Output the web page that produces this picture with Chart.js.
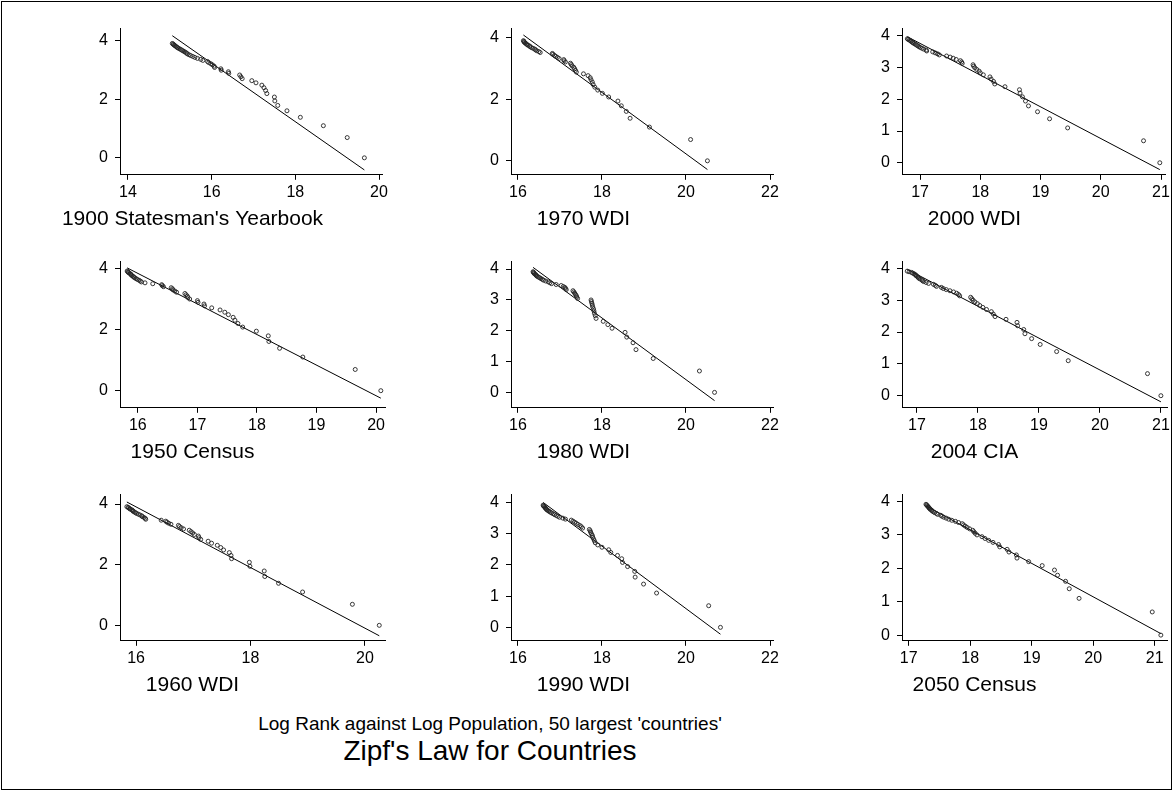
<!DOCTYPE html>
<html>
<head>
<meta charset="utf-8">
<script src="https://cdn.jsdelivr.net/npm/chart.js@4/dist/chart.umd.min.js"></script>
<style>
  body { margin: 0; background: #fff; }
  #page { position: relative; width: 1173px; height: 791px; background: #fff; overflow: hidden; }
  #frame { position: absolute; left: 1px; top: 1px; width: 1169px; height: 787px; border: 1px solid #000; }
  .cell { position: absolute; width: 391px; height: 233px; }
  .note { position: absolute; left: 0; width: 980px; text-align: center; color: #000;
          font-family: "Liberation Sans", Arial, sans-serif; white-space: nowrap; }
</style>
</head>
<body>
<div id="page">
  <div id="frame"></div>
  <div class="note" style="top: 712px; font-size: 19px; line-height: 23px;">Log Rank against Log Population, 50 largest 'countries'</div>
  <div class="note" style="top: 734px; font-size: 28px; line-height: 33px;">Zipf's Law for Countries</div>
</div>
<script>
// log rank, ranks 1..50 (same for every source)
const logRank = [0.000, 0.693, 1.099, 1.386, 1.609, 1.792, 1.946, 2.079, 2.197, 2.303,
  2.398, 2.485, 2.565, 2.639, 2.708, 2.773, 2.833, 2.890, 2.944, 2.996,
  3.045, 3.091, 3.135, 3.178, 3.219, 3.258, 3.296, 3.332, 3.367, 3.401,
  3.434, 3.466, 3.497, 3.526, 3.555, 3.584, 3.611, 3.638, 3.664, 3.689,
  3.714, 3.738, 3.761, 3.784, 3.807, 3.829, 3.850, 3.871, 3.892, 3.912];

// log population by rank, one list per source
const pop1900 = [19.65, 19.24, 18.67, 18.12, 17.80, 17.58, 17.51, 17.50, 17.32, 17.29,
  17.25, 17.20, 17.06, 16.96, 16.73, 16.70, 16.67, 16.41, 16.40, 16.23,
  16.22, 16.07, 16.06, 16.02, 15.98, 15.93, 15.90, 15.79, 15.74, 15.66,
  15.60, 15.55, 15.50, 15.46, 15.42, 15.40, 15.37, 15.34, 15.31, 15.28,
  15.25, 15.22, 15.19, 15.17, 15.15, 15.13, 15.11, 15.09, 15.08, 15.06];
const pop1970 = [20.51, 20.11, 19.13, 18.67, 18.58, 18.46, 18.38, 18.16, 18.01, 17.90,
  17.83, 17.79, 17.77, 17.74, 17.72, 17.67, 17.56, 17.39, 17.37, 17.35,
  17.33, 17.29, 17.27, 17.25, 17.13, 17.10, 17.09, 16.98, 16.94, 16.90,
  16.87, 16.83, 16.82, 16.53, 16.50, 16.45, 16.42, 16.40, 16.36, 16.32,
  16.29, 16.28, 16.24, 16.22, 16.20, 16.18, 16.16, 16.15, 16.14, 16.13];
const pop2000 = [20.98, 20.71, 19.45, 19.15, 18.95, 18.80, 18.75, 18.70, 18.66, 18.65,
  18.41, 18.24, 18.22, 18.18, 18.16, 18.05, 18.00, 17.98, 17.94, 17.91,
  17.89, 17.88, 17.70, 17.69, 17.67, 17.60, 17.55, 17.50, 17.44, 17.32,
  17.29, 17.25, 17.21, 17.11, 17.10, 17.06, 17.03, 17.00, 16.98, 16.96,
  16.94, 16.92, 16.90, 16.88, 16.87, 16.85, 16.84, 16.82, 16.80, 16.79];
const pop1950 = [20.08, 19.65, 18.77, 18.38, 18.20, 18.19, 17.99, 17.76, 17.68, 17.63,
  17.60, 17.52, 17.46, 17.38, 17.24, 17.12, 17.11, 17.01, 17.00, 16.87,
  16.84, 16.83, 16.81, 16.79, 16.65, 16.62, 16.59, 16.58, 16.56, 16.43,
  16.41, 16.40, 16.25, 16.12, 16.06, 16.04, 16.02, 15.99, 15.97, 15.95,
  15.93, 15.92, 15.90, 15.89, 15.88, 15.87, 15.85, 15.84, 15.83, 15.82];
const pop1980 = [20.68, 20.32, 19.22, 18.81, 18.74, 18.59, 18.55, 18.24, 18.14, 18.03,
  17.86, 17.84, 17.82, 17.81, 17.80, 17.78, 17.77, 17.76, 17.75, 17.74,
  17.42, 17.40, 17.39, 17.37, 17.35, 17.33, 17.31, 17.15, 17.13, 17.12,
  17.08, 17.03, 16.91, 16.80, 16.76, 16.72, 16.66, 16.61, 16.58, 16.55,
  16.52, 16.49, 16.46, 16.44, 16.43, 16.41, 16.39, 16.38, 16.37, 16.36];
const pop2004 = [21.00, 20.78, 19.48, 19.29, 19.02, 18.88, 18.77, 18.75, 18.65, 18.64,
  18.46, 18.28, 18.25, 18.22, 18.14, 18.08, 18.03, 17.99, 17.95, 17.92,
  17.90, 17.88, 17.70, 17.68, 17.65, 17.60, 17.54, 17.48, 17.43, 17.40,
  17.32, 17.30, 17.27, 17.19, 17.15, 17.11, 17.09, 17.08, 17.05, 17.03,
  17.02, 17.01, 16.99, 16.98, 16.97, 16.95, 16.93, 16.91, 16.87, 16.84];
const pop1960 = [20.25, 19.78, 18.91, 18.49, 18.25, 18.24, 17.99, 17.98, 17.67, 17.66,
  17.63, 17.53, 17.48, 17.42, 17.32, 17.26, 17.13, 17.10, 17.09, 17.02,
  16.99, 16.96, 16.93, 16.83, 16.79, 16.76, 16.74, 16.61, 16.57, 16.54,
  16.52, 16.44, 16.17, 16.16, 16.14, 16.11, 16.10, 16.07, 16.04, 16.01,
  15.99, 15.97, 15.95, 15.94, 15.93, 15.90, 15.89, 15.87, 15.86, 15.84];
const pop1990 = [20.82, 20.54, 19.30, 18.99, 18.79, 18.78, 18.61, 18.49, 18.47, 18.37,
  18.21, 18.16, 18.00, 17.90, 17.84, 17.82, 17.80, 17.78, 17.77, 17.75,
  17.73, 17.72, 17.70, 17.54, 17.51, 17.48, 17.43, 17.39, 17.35, 17.31,
  17.27, 17.13, 17.07, 16.99, 16.95, 16.91, 16.87, 16.84, 16.80, 16.77,
  16.74, 16.72, 16.69, 16.68, 16.66, 16.65, 16.64, 16.62, 16.61, 16.60];
const pop2050 = [21.10, 20.96, 19.77, 19.61, 19.55, 19.42, 19.37, 19.17, 18.95, 18.76,
  18.75, 18.63, 18.60, 18.48, 18.46, 18.37, 18.30, 18.24, 18.19, 18.11,
  18.08, 18.06, 18.04, 17.99, 17.95, 17.92, 17.89, 17.87, 17.81, 17.76,
  17.70, 17.65, 17.61, 17.57, 17.54, 17.52, 17.47, 17.45, 17.42, 17.40,
  17.38, 17.37, 17.35, 17.34, 17.33, 17.32, 17.31, 17.30, 17.29, 17.28];

// axis ticks
const ticksX14 = [14, 16, 18, 20];
const ticksX16 = [16, 18, 20, 22];
const ticksX16b = [16, 17, 18, 19, 20];
const ticksX16c = [16, 18, 20];
const ticksX17 = [17, 18, 19, 20, 21];
const ticksY2 = [0, 2, 4];
const ticksY1 = [0, 1, 2, 3, 4];

const titles = ["1900 Statesman's Yearbook", '1970 WDI', '2000 WDI',
  '1950 Census', '1980 WDI', '2004 CIA',
  '1960 WDI', '1990 WDI', '2050 Census'];

// panels in reading order (3 x 3)
const panels = [
  { x: pop1900, xr: [13.81, 20.09], xt: ticksX14, yr: [-0.58, 4.44], yt: ticksY2 },
  { x: pop1970, xr: [15.835, 22.09], xt: ticksX16, yr: [-0.455, 4.325], yt: ticksY2 },
  { x: pop2000, xr: [16.70, 21.07], xt: ticksX17, yr: [-0.38, 4.25], yt: ticksY1 },
  { x: pop1950, xr: [15.70, 20.15], xt: ticksX16b, yr: [-0.56, 4.24], yt: ticksY2 },
  { x: pop1980, xr: [15.835, 22.09], xt: ticksX16, yr: [-0.50, 4.26], yt: ticksY1 },
  { x: pop2004, xr: [16.754, 21.10], xt: ticksX17, yr: [-0.38, 4.23], yt: ticksY1 },
  { x: pop1960, xr: [15.72, 20.35], xt: ticksX16c, yr: [-0.51, 4.33], yt: ticksY2 },
  { x: pop1990, xr: [15.835, 22.09], xt: ticksX16, yr: [-0.43, 4.27], yt: ticksY1 },
  { x: pop2050, xr: [16.89, 21.20], xt: ticksX17, yr: [-0.17, 4.22], yt: ticksY1 }
];

const FONT = '"Liberation Sans", Arial, sans-serif';

// Zipf line: slope -1 through the means, drawn across the data range
function zipfLine(xs, ys) {
  const n = xs.length;
  const mx = xs.reduce((s, v) => s + v, 0) / n;
  const my = ys.reduce((s, v) => s + v, 0) / n;
  const a = my + mx;
  const lo = Math.min(...xs), hi = Math.max(...xs);
  return [{ x: lo, y: a - lo }, { x: hi, y: a - hi }];
}

function axis(range, ticks, isY) {
  return {
    type: 'linear',
    min: range[0],
    max: range[1],
    afterBuildTicks: (s) => { s.ticks = ticks.map(v => ({ value: v })); },
    afterFit: (s) => { if (isY) s.width = 120; else s.height = 30; },
    grid: { display: true, drawOnChartArea: false, drawTicks: true, tickLength: 5, color: '#000', lineWidth: 1 },
    border: { display: true, color: '#000', width: 1 },
    ticks: {
      color: '#000',
      font: { family: FONT, size: 16 },
      padding: isY ? 7 : 3,
      maxRotation: 0,
      autoSkip: false,
      callback: (v) => String(v)
    }
  };
}

const page = document.getElementById('page');
panels.forEach((p, i) => {
  const cell = document.createElement('div');
  cell.className = 'cell';
  cell.style.left = (i % 3) * 391 + 'px';
  cell.style.top = Math.floor(i / 3) * 233 + 'px';
  const canvas = document.createElement('canvas');
  canvas.width = 391;
  canvas.height = 233;
  cell.appendChild(canvas);
  page.appendChild(cell);

  const pts = p.x.map((v, k) => ({ x: v, y: logRank[k] }));
  new Chart(canvas.getContext('2d'), {
    type: 'scatter',
    data: {
      datasets: [
        {
          data: pts,
          pointRadius: 2,
          pointBorderWidth: 0.9,
          borderColor: '#222',
          backgroundColor: 'rgba(0,0,0,0)',
          showLine: false
        },
        {
          data: zipfLine(p.x, logRank),
          showLine: true,
          borderColor: '#000',
          borderWidth: 1,
          pointRadius: 0,
          fill: false
        }
      ]
    },
    options: {
      responsive: false,
      animation: false,
      devicePixelRatio: 1,
      layout: { padding: { left: 0, top: 28, right: 6, bottom: 1 } },
      plugins: {
        legend: { display: false },
        tooltip: { enabled: false },
        title: {
          display: true,
          position: 'bottom',
          text: titles[i],
          color: '#000',
          font: { family: FONT, size: 21, weight: 'normal' },
          padding: { top: 2, bottom: 0 }
        }
      },
      scales: {
        x: axis(p.xr, p.xt, false),
        y: axis(p.yr, p.yt, true)
      }
    }
  });
});
</script>
</body>
</html>
